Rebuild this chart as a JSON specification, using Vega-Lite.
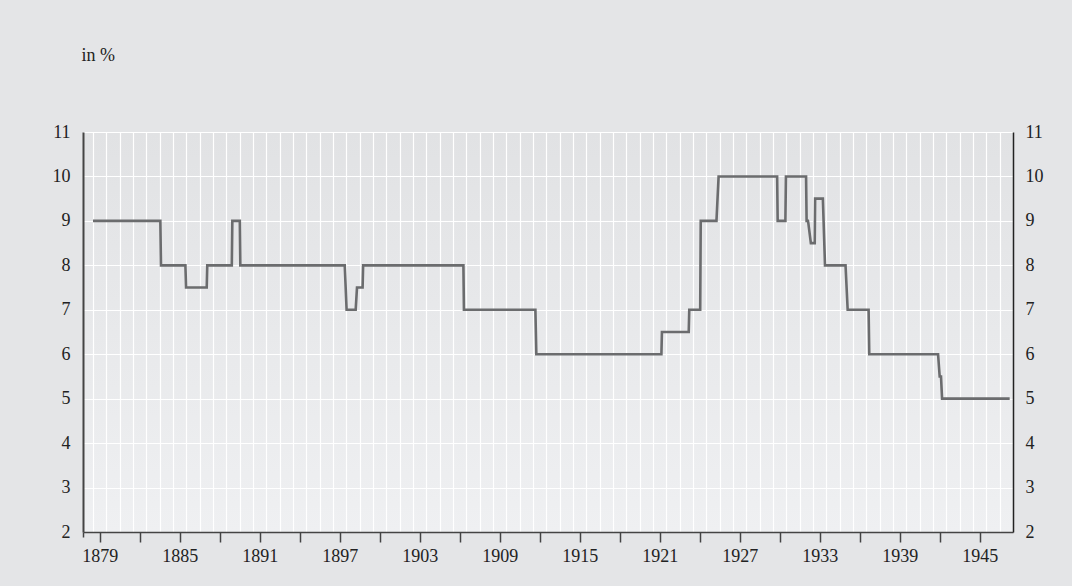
{
  "$schema": "https://vega.github.io/schema/vega-lite/v6.json",
  "width": 930,
  "height": 400,
  "autosize": {"type": "none"},
  "padding": {"left": 83, "top": 132, "right": 59, "bottom": 54},
  "background": "#e4e5e7",
  "config": {
    "font": "Liberation Serif",
    "view": {
      "stroke": null,
      "fill": {"gradient": "linear", "x1": 0, "y1": 0, "x2": 0, "y2": 1,
        "stops": [{"offset": 0, "color": "#e1e2e4"}, {"offset": 1, "color": "#eff0f2"}]}
    }
  },
  "data": {
    "values": [
      {"year": 1879.0, "rate": 9},
      {"year": 1884.05, "rate": 9},
      {"year": 1884.1, "rate": 8},
      {"year": 1885.93, "rate": 8},
      {"year": 1885.98, "rate": 7.5},
      {"year": 1887.53, "rate": 7.5},
      {"year": 1887.57, "rate": 8},
      {"year": 1889.41, "rate": 8},
      {"year": 1889.45, "rate": 9},
      {"year": 1890.01, "rate": 9},
      {"year": 1890.05, "rate": 8},
      {"year": 1897.88, "rate": 8},
      {"year": 1898.02, "rate": 7},
      {"year": 1898.7, "rate": 7},
      {"year": 1898.8, "rate": 7.5},
      {"year": 1899.22, "rate": 7.5},
      {"year": 1899.26, "rate": 8},
      {"year": 1906.78, "rate": 8},
      {"year": 1906.82, "rate": 7},
      {"year": 1912.18, "rate": 7},
      {"year": 1912.25, "rate": 6},
      {"year": 1921.63, "rate": 6},
      {"year": 1921.67, "rate": 6.5},
      {"year": 1923.68, "rate": 6.5},
      {"year": 1923.72, "rate": 7},
      {"year": 1924.54, "rate": 7},
      {"year": 1924.58, "rate": 9},
      {"year": 1925.76, "rate": 9},
      {"year": 1925.92, "rate": 10},
      {"year": 1930.31, "rate": 10},
      {"year": 1930.35, "rate": 9},
      {"year": 1930.93, "rate": 9},
      {"year": 1930.97, "rate": 10},
      {"year": 1932.48, "rate": 10},
      {"year": 1932.52, "rate": 9},
      {"year": 1932.62, "rate": 9},
      {"year": 1932.65, "rate": 8.95},
      {"year": 1932.84, "rate": 8.5},
      {"year": 1933.13, "rate": 8.5},
      {"year": 1933.16, "rate": 9.5},
      {"year": 1933.74, "rate": 9.5},
      {"year": 1933.9, "rate": 8},
      {"year": 1935.44, "rate": 8},
      {"year": 1935.6, "rate": 7},
      {"year": 1937.17, "rate": 7},
      {"year": 1937.22, "rate": 6},
      {"year": 1942.38, "rate": 6},
      {"year": 1942.5, "rate": 5.5},
      {"year": 1942.6, "rate": 5.5},
      {"year": 1942.68, "rate": 5},
      {"year": 1947.75, "rate": 5}
    ]
  },
  "layer": [
    {
      "mark": {"type": "line", "color": "#6b6c6e", "strokeWidth": 2.6, "strokeJoin": "miter"},
      "encoding": {
        "x": {
          "field": "year", "type": "quantitative",
          "scale": {"domain": [1878.25, 1948], "nice": false, "zero": false},
          "axis": {
            "title": null,
            "tickCount": 1000,
            "values": [1878.25, 1879, 1879.5, 1880, 1881, 1882, 1882.5, 1883, 1884, 1885, 1885.5, 1886, 1887, 1888, 1888.5, 1889, 1890, 1891, 1891.5, 1892, 1893, 1894, 1894.5, 1895, 1896, 1897, 1897.5, 1898, 1899, 1900, 1900.5, 1901, 1902, 1903, 1903.5, 1904, 1905, 1906, 1906.5, 1907, 1908, 1909, 1909.5, 1910, 1911, 1912, 1912.5, 1913, 1914, 1915, 1915.5, 1916, 1917, 1918, 1918.5, 1919, 1920, 1921, 1921.5, 1922, 1923, 1924, 1924.5, 1925, 1926, 1927, 1927.5, 1928, 1929, 1930, 1930.5, 1931, 1932, 1933, 1933.5, 1934, 1935, 1936, 1936.5, 1937, 1938, 1939, 1939.5, 1940, 1941, 1942, 1942.5, 1943, 1944, 1945, 1945.5, 1946, 1947],
            "grid": true,
            "gridColor": "#ffffff",
            "gridWidth": 1.2,
            "gridOpacity": {"condition": {"test": "datum.value % 1 == 0", "value": 1}, "value": 0},
            "ticks": true,
            "tickOpacity": {"condition": {"test": "datum.value % 1 == 0", "value": 0}, "value": 1},
            "tickSize": {"condition": {"test": "datum.value < 1879", "value": 5}, "value": 10},
            "tickColor": "#444444",
            "tickWidth": 1.5,
            "domainColor": "#444444",
            "domainWidth": 1.5,
            "labelExpr": "datum.value % 6 == 1.5 ? '' + floor(datum.value) : ''",
            "labelFont": "Liberation Serif",
            "labelFontSize": 18,
            "labelColor": "#222222",
            "labelPadding": 5,
            "labelFlush": false,
            "labelOverlap": false,
            "labelBound": false
          }
        },
        "y": {
          "field": "rate", "type": "quantitative",
          "scale": {"domain": [2, 11], "nice": false, "zero": false},
          "axis": {
            "orient": "left",
            "values": [2, 3, 4, 5, 6, 7, 8, 9, 10, 11],
            "grid": true,
            "gridColor": "#ffffff",
            "gridWidth": 1.2,
            "ticks": false,
            "domainColor": "#444444",
            "domainWidth": 2,
            "labelFont": "Liberation Serif",
            "labelFontSize": 18,
            "labelColor": "#222222",
            "labelPadding": 13,
            "title": "in %",
            "titleAngle": 0,
            "titleAlign": "left",
            "titleBaseline": "alphabetic",
            "titleX": -2,
            "titleY": -72,
            "titleFont": "Liberation Serif",
            "titleFontSize": 18,
            "titleFontWeight": "normal",
            "titleColor": "#222222"
          }
        }
      }
    },
    {
      "mark": {"type": "line", "opacity": 0},
      "encoding": {
        "x": {"field": "year", "type": "quantitative"},
        "y": {
          "field": "rate", "type": "quantitative",
          "scale": {"domain": [2, 11], "nice": false, "zero": false},
          "axis": {
            "orient": "right",
            "values": [2, 3, 4, 5, 6, 7, 8, 9, 10, 11],
            "grid": false,
            "ticks": false,
            "domainColor": "#222222",
            "domainWidth": 1.5,
            "labelFont": "Liberation Serif",
            "labelFontSize": 18,
            "labelColor": "#222222",
            "labelPadding": 12,
            "title": null
          }
        }
      }
    }
  ],
  "resolve": {"scale": {"y": "independent"}, "axis": {"y": "independent"}}
}
